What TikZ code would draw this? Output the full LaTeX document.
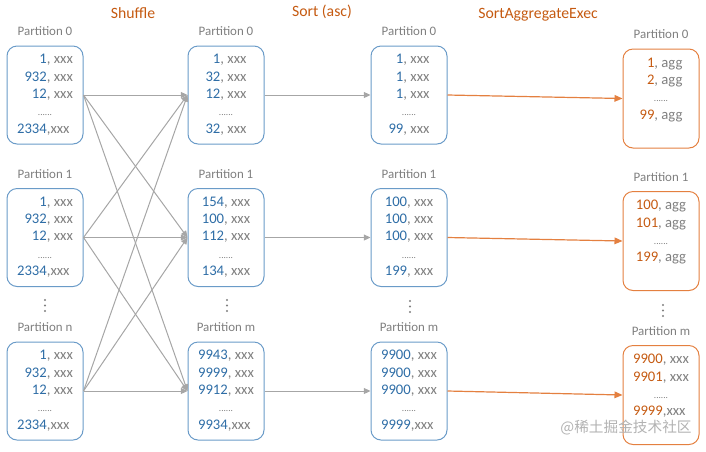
\documentclass[tikz,border=0pt]{standalone}
\usepackage{fontspec}
\setmainfont{Carlito}
\newfontfamily\cjkfont{Noto Sans CJK SC}
\usetikzlibrary{positioning,arrows.meta}
\definecolor{boxblue}{HTML}{6A9BC8}
\definecolor{numblue}{HTML}{2E6DA6}
\definecolor{boxorange}{HTML}{E48040}
\definecolor{numorange}{HTML}{C55A11}
\definecolor{txtgray}{HTML}{7F7F7F}
\definecolor{arrgray}{HTML}{A6A6A6}
\newcommand{\bn}[1]{\textcolor{numblue}{#1}}
\newcommand{\on}[1]{\textcolor{numorange}{#1}}
\newcommand{\gap}{\multicolumn{2}{c}{\scriptsize......}}
\tikzset{
  partbox/.style={draw=boxblue, line width=0.75pt, rounded corners=7.5pt,
    minimum width=57pt, minimum height=73.5pt, inner sep=0pt,
    text=txtgray, font=\fontsize{11}{13}\selectfont},
  aggbox/.style={partbox, draw=boxorange, minimum height=74.25pt},
  plabel/.style={text=txtgray, font=\fontsize{9.7}{11}\selectfont, inner sep=0pt},
  stage/.style={text=numorange, font=\fontsize{11.8}{14}\selectfont},
  grayarrow/.style={draw=arrgray, line width=0.75pt, -{Triangle[length=5pt,width=4.5pt]}},
  orangearrow/.style={draw=boxorange, line width=0.9pt, -{Triangle[length=6pt,width=5pt]}}
}
\begin{document}
\begin{tikzpicture}[x=0.75pt,y=-0.75pt]
    \useasboundingbox (0,0) rectangle (706,451);
    % stage titles
    \node[stage] (shuffle) at (133,13) {Shuffle};
    \node[stage] (sort) at (322,12) {Sort (asc)};
    \node[stage] (agg) at (538,15) {SortAggregateExec};
    % input partitions
    \node[partbox] (a0) at (45,95) {\begin{tabular}{@{}r@{}l@{}}
        \bn{1}&, xxx\\ \bn{932}&, xxx\\ \bn{12}&, xxx\\ \gap\\ \bn{2334}&,xxx
      \end{tabular}};
    \node[partbox] (a1) at (45,237.5) {\begin{tabular}{@{}r@{}l@{}}
        \bn{1}&, xxx\\ \bn{932}&, xxx\\ \bn{12}&, xxx\\ \gap\\ \bn{2334}&,xxx
      \end{tabular}};
    \node[partbox] (a2) at (45,391) {\begin{tabular}{@{}r@{}l@{}}
        \bn{1}&, xxx\\ \bn{932}&, xxx\\ \bn{12}&, xxx\\ \gap\\ \bn{2334}&,xxx
      \end{tabular}};
    % shuffled partitions
    \node[partbox] (b0) at (226,95) {\begin{tabular}{@{}r@{}l@{}}
        \bn{1}&, xxx\\ \bn{32}&, xxx\\ \bn{12}&, xxx\\ \gap\\ \bn{32}&, xxx
      \end{tabular}};
    \node[partbox] (b1) at (226,237.5) {\begin{tabular}{@{}r@{}l@{}}
        \bn{154}&, xxx\\ \bn{100}&, xxx\\ \bn{112}&, xxx\\ \gap\\ \bn{134}&, xxx
      \end{tabular}};
    \node[partbox] (b2) at (226,391) {\begin{tabular}{@{}r@{}l@{}}
        \bn{9943}&, xxx\\ \bn{9999}&, xxx\\ \bn{9912}&, xxx\\ \gap\\ \bn{9934}&,xxx
      \end{tabular}};
    % sorted partitions
    \node[partbox] (c0) at (409,95) {\begin{tabular}{@{}r@{}l@{}}
        \bn{1}&, xxx\\ \bn{1}&, xxx\\ \bn{1}&, xxx\\ \gap\\ \bn{99}&, xxx
      \end{tabular}};
    \node[partbox] (c1) at (409,237.5) {\begin{tabular}{@{}r@{}l@{}}
        \bn{100}&, xxx\\ \bn{100}&, xxx\\ \bn{100}&, xxx\\ \gap\\ \bn{199}&, xxx
      \end{tabular}};
    \node[partbox] (c2) at (409,391) {\begin{tabular}{@{}r@{}l@{}}
        \bn{9900}&, xxx\\ \bn{9900}&, xxx\\ \bn{9900}&, xxx\\ \gap\\ \bn{9999}&,xxx
      \end{tabular}};
    % aggregated partitions
    \node[aggbox] (d0) at (661,98.5) {\begin{tabular}{@{}r@{}l@{}}
        \on{1}&, agg\\ \on{2}&, agg\\ \gap\\ \on{99}&, agg\\ &
      \end{tabular}};
    \node[aggbox] (d1) at (661,241) {\begin{tabular}{@{}r@{}l@{}}
        \on{100}&, agg\\ \on{101}&, agg\\ \gap\\ \on{199}&, agg\\ &
      \end{tabular}};
    \node[aggbox] (d2) at (661,395) {\begin{tabular}{@{}r@{}l@{}}
        \on{9900}&, xxx\\ \on{9901}&, xxx\\ \gap\\ \on{9999}&,xxx\\ &
      \end{tabular}};
    % partition labels
    \node[plabel, above=7pt of a0] (la0) {Partition 0};
    \node[plabel, above=7pt of a1] (la1) {Partition 1};
    \node[plabel, above=7pt of a2] (la2) {Partition n};
    \node[plabel, above=7pt of b0] (lb0) {Partition 0};
    \node[plabel, above=7pt of b1] (lb1) {Partition 1};
    \node[plabel, above=7pt of b2] (lb2) {Partition m};
    \node[plabel, above=7pt of c0] (lc0) {Partition 0};
    \node[plabel, above=7pt of c1] (lc1) {Partition 1};
    \node[plabel, above=7pt of c2] (lc2) {Partition m};
    \node[plabel, above=7pt of d0] (ld0) {Partition 0};
    \node[plabel, above=7pt of d1] (ld1) {Partition 1};
    \node[plabel, above=7pt of d2] (ld2) {Partition m};
    % more partitions
    \foreach \x/\y in {45/300, 227/300, 410/301, 663/305}
      \foreach \k in {0,1,2}
        \fill[txtgray] (\x,\y+5.5*\k) circle (0.8pt);
    % shuffle, sort, aggregate
    \foreach \s in {0,1,2}
      \foreach \t in {0,1,2}
        \draw[grayarrow] (a\s.east) -- (b\t.west);
    \foreach \i in {0,1,2} {
      \draw[grayarrow] (b\i.east) -- (c\i.west);
      \draw[orangearrow] (c\i.east) -- (d\i.west);
    }
    \node[text=black!30, font=\cjkfont\fontsize{11}{13}\selectfont] (mark) at (626,428) {@稀土掘金技术社区};
\end{tikzpicture}
\end{document}
